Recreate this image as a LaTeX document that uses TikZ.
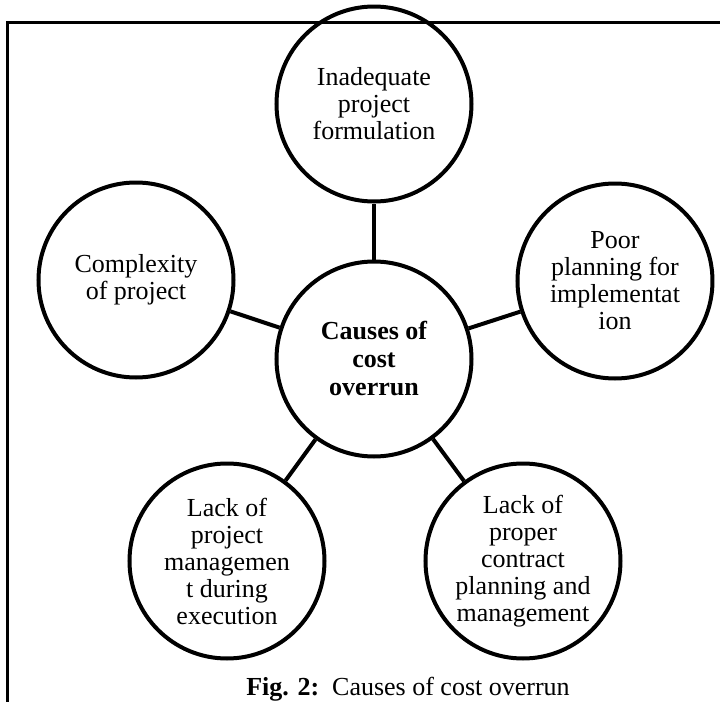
\documentclass[tikz,border=0pt]{standalone}
\usepackage{fontspec}
\setmainfont{Liberation Serif}
\usepackage{tikz}

\tikzset{
  cause/.style={circle,draw,line width=2pt,minimum size=97.5pt,inner sep=1pt,
    align=center,font=\fontsize{13}{13.5}\selectfont},
  link/.style={line width=2pt}
}

\begin{document}
\begin{tikzpicture}[x=0.5pt,y=-0.5pt]
\useasboundingbox (0,0) rectangle (720,702);
\draw[line width=1.25pt] (7.5,702) -- (7.5,22.7) -- (720,22.7);

\node[cause,font=\bfseries\fontsize{13}{14}\selectfont] (hub) at (374,359) {Causes of\\cost\\overrun};
\node[cause] (formul) at (374,104) {Inadequate\\project\\formulation};
\node[cause] (complex) at (136,280) {Complexity\\of project};
\node[cause] (plan) at (615,281) {Poor\\planning for\\implementat\\ion};
\node[cause] (pm) at (227,561) {Lack of\\project\\managemen\\t during\\execution};
\node[cause] (contract) at (523,561) {Lack of\\proper\\contract\\planning and\\management};

\foreach \c in {formul,complex,plan,pm,contract}
  \draw[link] (hub) -- (\c);

\node[font=\fontsize{13}{14}\selectfont] (caption) at (408,689) {\textbf{Fig. 2:}\ \ Causes of cost overrun};
\end{tikzpicture}
\end{document}
